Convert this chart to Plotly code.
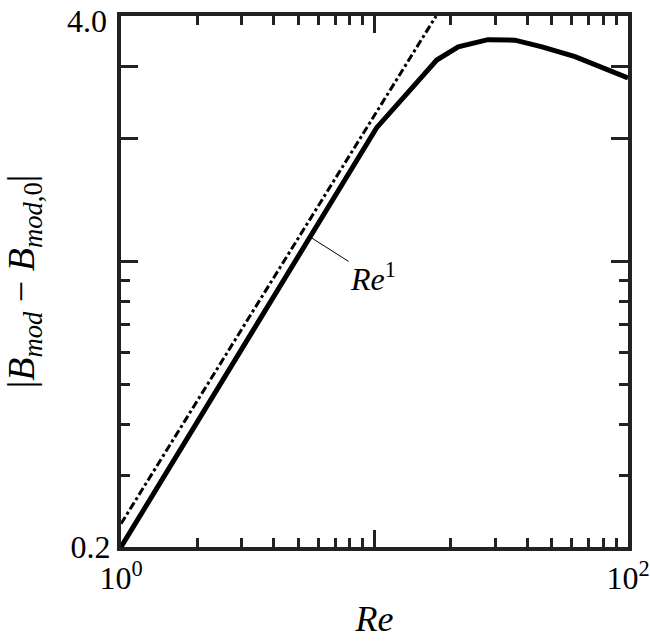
import math
import plotly.graph_objects as go

# solid curve |B_mod - B_mod,0| versus Re
re_curve = [1, 2, 3.47, 6.38, 10.2, 15.4, 17.6, 21.4, 28.0, 35.8, 45.8, 61.8, 100]
b_curve = [0.2, 0.405, 0.716, 1.318, 2.13, 2.84, 3.12, 3.36, 3.50, 3.49, 3.36, 3.18, 2.82]

# Re^1 reference line (end points)
re_fit = [1, 17.5]
b_fit = [0.228, 4.0]

# ticks
x_major = [1, 10, 100]
x_major_text = ["10<sup>0</sup>", "", "10<sup>2</sup>"]
x_minor = [2, 3, 4, 5, 6, 7, 8, 9, 20, 30, 40, 50, 60, 70, 80, 90]
y_major = [0.2, 1, 2, 3, 4]
y_major_text = ["0.2", "", "", "", ""]
y_top_label = "4.0"
y_minor = [0.3, 0.4, 0.5, 0.6, 0.7, 0.8, 0.9]

FONT = "Liberation Serif"

fig = go.Figure()

fig.add_trace(go.Scatter(
    x=re_fit, y=b_fit, mode="lines",
    line=dict(color="black", width=3, dash="8px,3px,3px,3px"),
    showlegend=False, hoverinfo="skip"))

fig.add_trace(go.Scatter(
    x=re_curve, y=b_curve, mode="lines",
    line=dict(color="black", width=5),
    showlegend=False))

fig.add_annotation(
    x=math.log10(5.57), y=math.log10(1.15), xref="x", yref="y",
    text="<i>Re</i><sup>1</sup>", showarrow=True, arrowhead=0,
    arrowwidth=1, arrowcolor="black", ax=63, ay=40,
    font=dict(family=FONT, size=32, color="black"))

# top y label drawn as an annotation so it stays inside the page
fig.add_annotation(
    x=0, y=1, xref="paper", yref="paper", xanchor="right", yanchor="top",
    xshift=-12, yshift=15, text=y_top_label, showarrow=False,
    font=dict(family=FONT, size=32, color="black"))

axis_common = dict(
    type="log", showgrid=False, zeroline=False, automargin=False,
    showline=True, linecolor="#222", linewidth=4, mirror="ticks",
    ticks="inside", tickcolor="#222", tickwidth=3, ticklen=17,
    tickfont=dict(family=FONT, size=32, color="black"),
    ticklabeloverflow="allow",
)

fig.update_xaxes(
    **axis_common,
    range=[-1e-6, 2 + 1e-6], tickmode="array", tickvals=x_major, ticktext=x_major_text,
    minor=dict(tickvals=x_minor, ticks="inside", ticklen=9,
               tickwidth=3, tickcolor="#222"),
    title=dict(text="<i>Re</i>", font=dict(family=FONT, size=36, color="black"),
               standoff=11),
)
fig.update_yaxes(
    **axis_common,
    range=[math.log10(0.2) - 1e-6, math.log10(4) + 1e-6], tickmode="array",
    tickvals=y_major, ticktext=y_major_text,
    minor=dict(tickvals=y_minor, ticks="inside", ticklen=9,
               tickwidth=3, tickcolor="#222"),
    title=dict(text="|<i>B</i><sub><i>mod</i></sub> − <i>B</i><sub><i>mod</i>,0</sub>|",
               font=dict(family=FONT, size=38, color="black"), standoff=27),
)

fig.update_layout(
    width=650, height=642,
    margin=dict(l=121, r=22, t=16, b=95),
    paper_bgcolor="white", plot_bgcolor="white",
    font=dict(family=FONT, color="black"),
)

# page body has a default margin; remove it so the figure sits at 0,0
fig.write_html("out.html", config={"displayModeBar": False},
               post_script="document.body.style.margin='0';")
